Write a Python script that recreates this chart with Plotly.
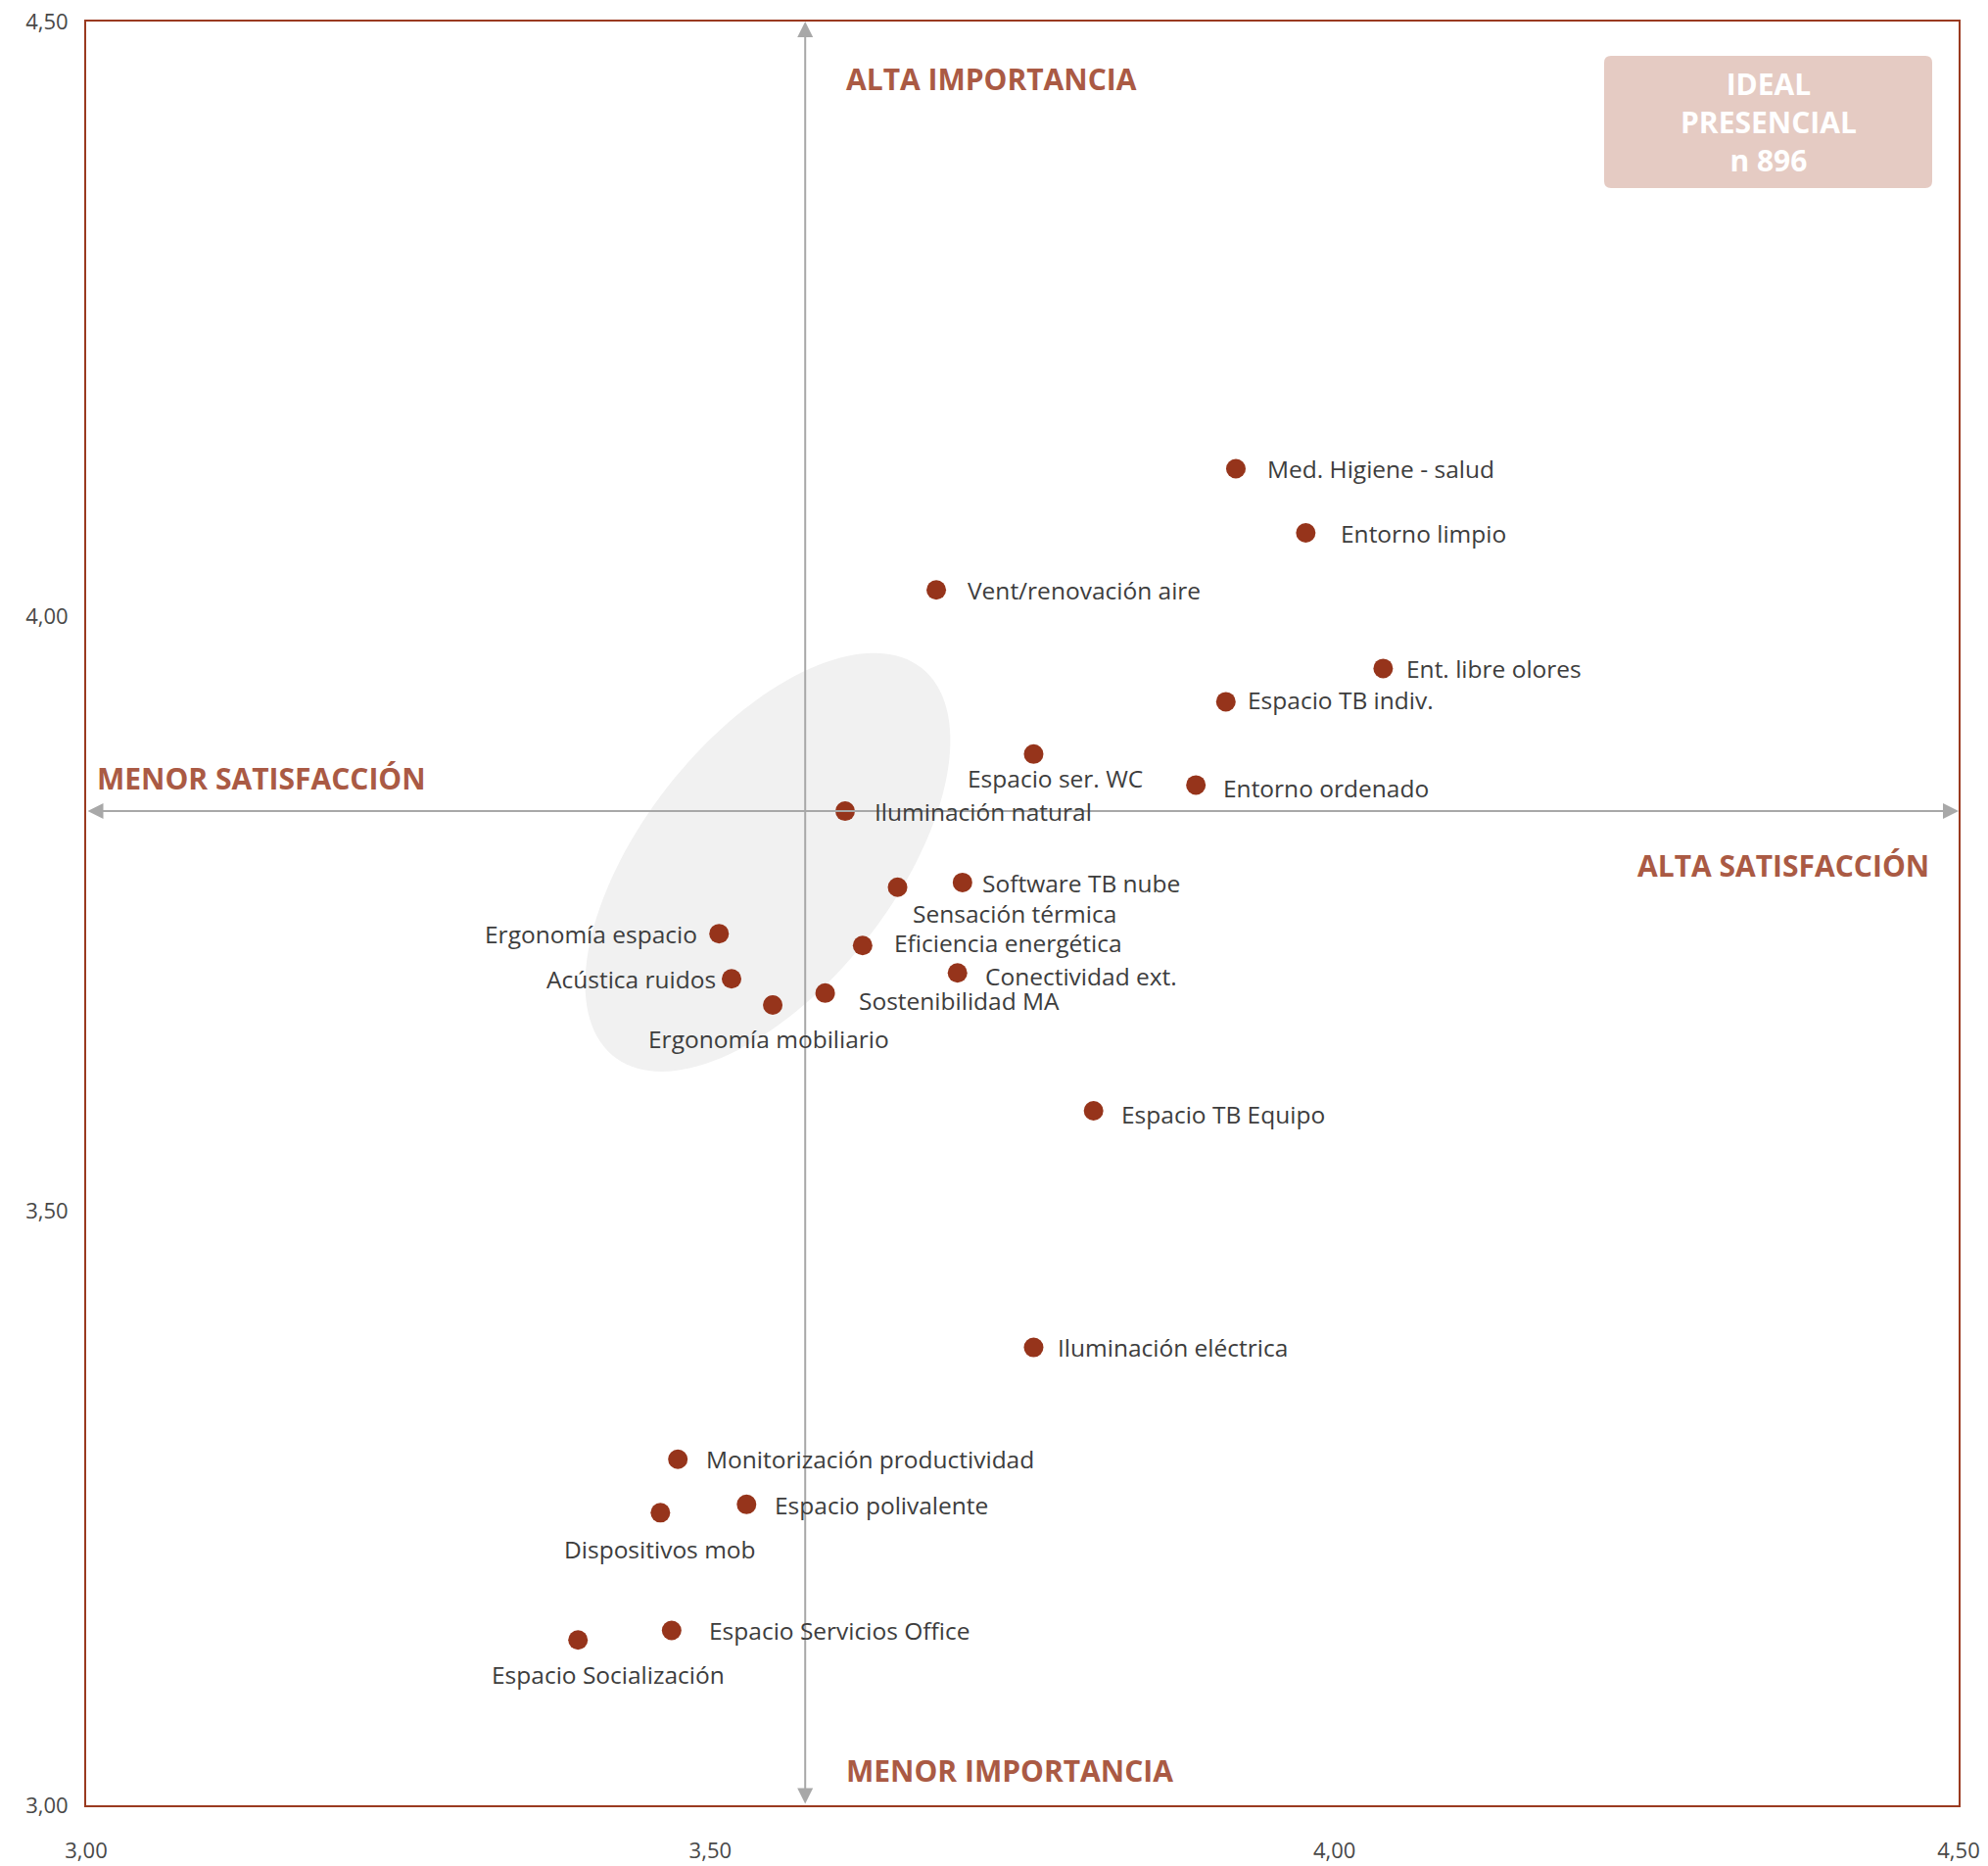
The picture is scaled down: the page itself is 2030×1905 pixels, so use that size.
import numpy as np
import plotly.graph_objects as go

# ---------------- data ----------------
labels = [
    "Med. Higiene - salud", "Entorno limpio", "Vent/renovación aire", "Ent. libre olores",
    "Espacio TB indiv.", "Espacio ser. WC", "Entorno ordenado", "Iluminación natural",
    "Software TB nube", "Sensación térmica", "Ergonomía espacio", "Eficiencia energética",
    "Acústica ruidos", "Conectividad ext.", "Sostenibilidad MA", "Ergonomía mobiliario",
    "Espacio TB Equipo", "Iluminación eléctrica", "Monitorización productividad",
    "Espacio polivalente", "Dispositivos mob", "Espacio Servicios Office", "Espacio Socialización",
]
satisfaccion = [3.921, 3.977, 3.681, 4.039, 3.913, 3.759, 3.889, 3.608,
                3.702, 3.650, 3.507, 3.622, 3.517, 3.698, 3.592, 3.550,
                3.807, 3.759, 3.474, 3.529, 3.460, 3.469, 3.394]
importancia = [4.124, 4.070, 4.022, 3.956, 3.928, 3.884, 3.858, 3.836,
               3.776, 3.772, 3.733, 3.723, 3.695, 3.700, 3.683, 3.673,
               3.584, 3.385, 3.291, 3.253, 3.246, 3.147, 3.139]

x_ticks = [3.0, 3.5, 4.0, 4.5]
x_tick_text = ["3,00", "3,50", "4,00", "4,50"]
y_ticks = [3.0, 3.5, 4.0, 4.5]
y_tick_text = ["3,00", "3,50", "4,00", "4,50"]

media_satisfaccion = 3.576
media_importancia = 3.836

box_text = "IDEAL<br>PRESENCIAL<br>n 896"

# ---------------- styling ----------------
W, H = 2030, 1905
ML, MR, MT, MB = 88, 30, 22, 62
PW, PH = W - ML - MR, H - MT - MB
X0, X1, Y0, Y1 = 3.0, 4.5, 3.0, 4.5
pxx = PW / (X1 - X0)
pxy = PH / (Y1 - Y0)

FONT = "Open Sans"
RUST = "#9a3a20"
DOT = "#96341b"
QCOL = "#aa5a44"
TXT = "#3d3d3d"
GRAY = "#a8a8a8"

# label placement (anchor, dx px, dy px)
place = [
    ("left", 30, 0), ("left", 34, 0), ("left", 30, 0), ("left", 22, 0),
    ("left", 20, 2), ("center", 22, -25), ("left", 26, -3), ("left", 28, 0),
    ("left", 18, -1), ("center", 119, -27), ("right", -20, 0), ("left", 30, 3),
    ("right", -14, 0), ("left", 26, -3), ("left", 32, -8), ("center", -4, -35),
    ("left", 26, -3), ("left", 23, 0), ("left", 27, 0), ("left", 27, -1),
    ("center", 0, -37), ("left", 36, 0), ("center", 31, -35),
]

fig = go.Figure()

# ellipse highlight (center in data units, axes in px converted via pixel scale)
ec_x, ec_y = 3.546, 3.793
ea, eb, eang = 253.0, 128.0, np.deg2rad(51.6)
t = np.linspace(0, 2 * np.pi, 140)
px_ = ea * np.cos(t) * np.cos(eang) - eb * np.sin(t) * np.sin(eang)
py_ = ea * np.cos(t) * np.sin(eang) + eb * np.sin(t) * np.cos(eang)
exs = ec_x + px_ / pxx
eys = ec_y + py_ / pxy
path = "M " + " L ".join(f"{a:.5f},{b:.5f}" for a, b in zip(exs, eys)) + " Z"
fig.add_shape(type="path", path=path, xref="x", yref="y", fillcolor="#f1f1f1",
              line=dict(width=0), layer="below")

# rounded info box (paper coords)
bx0, bx1 = (1638 - ML) / PW, (1973 - ML) / PW
by1, by0 = 1 - (57 - MT) / PH, 1 - (192 - MT) / PH
rx, ry = 7 / PW, 7 / PH
bpath = (f"M {bx0+rx},{by0} L {bx1-rx},{by0} Q {bx1},{by0} {bx1},{by0+ry} "
         f"L {bx1},{by1-ry} Q {bx1},{by1} {bx1-rx},{by1} L {bx0+rx},{by1} "
         f"Q {bx0},{by1} {bx0},{by1-ry} L {bx0},{by0+ry} Q {bx0},{by0} {bx0+rx},{by0} Z")
fig.add_shape(type="path", path=bpath, xref="paper", yref="paper",
              fillcolor="#e5cbc3", line=dict(width=0), layer="above")
fig.add_annotation(x=(bx0 + bx1) / 2, y=(by0 + by1) / 2, xref="paper", yref="paper",
                   xanchor="center", yanchor="middle",
                   text=f"<b>{box_text}</b>", showarrow=False,
                   font=dict(family=FONT, size=30, color="white"), align="center")

# crosshair arrows
fig.add_annotation(x=media_satisfaccion, y=Y1, ax=media_satisfaccion, ay=Y0,
                   xref="x", yref="y", axref="x", ayref="y", text="",
                   showarrow=True, arrowhead=2, startarrowhead=2, arrowside="end+start",
                   arrowsize=1.6, startarrowsize=1.6, arrowwidth=2, arrowcolor=GRAY, standoff=0)
fig.add_annotation(x=X1, y=media_importancia, ax=X0, ay=media_importancia,
                   xref="x", yref="y", axref="x", ayref="y", text="",
                   showarrow=True, arrowhead=2, startarrowhead=2, arrowside="end+start",
                   arrowsize=1.6, startarrowsize=1.6, arrowwidth=2, arrowcolor=GRAY, standoff=0)

# points
fig.add_trace(go.Scatter(x=satisfaccion, y=importancia, mode="markers",
                         marker=dict(size=20, color=DOT), hoverinfo="text",
                         text=labels, showlegend=False))

for lab, xv, yv, (anc, dx, dy) in zip(labels, satisfaccion, importancia, place):
    fig.add_annotation(x=xv, y=yv, xref="x", yref="y", text=lab, showarrow=False,
                       xanchor=anc, yanchor="middle", xshift=dx, yshift=dy,
                       font=dict(family=FONT, size=24.5, color=TXT))

# quadrant labels
qfont = dict(family=FONT, size=30, color=QCOL)
fig.add_annotation(x=3.607, y=4.452, text="<b>ALTA IMPORTANCIA</b>", showarrow=False,
                   xanchor="left", yanchor="middle", font=qfont)
fig.add_annotation(x=3.607, y=3.029, text="<b>MENOR IMPORTANCIA</b>", showarrow=False,
                   xanchor="left", yanchor="middle", font=qfont)
fig.add_annotation(x=3.007, y=3.864, text="<b>MENOR SATISFACCIÓN</b>", showarrow=False,
                   xanchor="left", yanchor="middle", font=qfont)
fig.add_annotation(x=4.478, y=3.790, text="<b>ALTA SATISFACCIÓN</b>", showarrow=False,
                   xanchor="right", yanchor="middle", font=qfont)

axis_common = dict(showgrid=False, zeroline=False, showline=True, linecolor=RUST,
                   linewidth=2, mirror=True, ticks="", automargin=False,
                   tickfont=dict(family=FONT, size=22, color="#484848"))
fig.update_layout(
    width=W, height=H,
    margin=dict(l=ML, r=MR, t=MT, b=MB),
    paper_bgcolor="white", plot_bgcolor="white",
    xaxis=dict(range=[X0, X1], tickvals=x_ticks, ticktext=x_tick_text,
               ticklabelstandoff=26, **axis_common),
    yaxis=dict(range=[Y0, Y1], tickvals=y_ticks, ticktext=y_tick_text,
               ticklabelstandoff=12, **axis_common),
)

fig.write_html("out.html", config={"displayModeBar": False},
               post_script="document.body.style.margin='0';document.body.style.overflow='hidden';")
